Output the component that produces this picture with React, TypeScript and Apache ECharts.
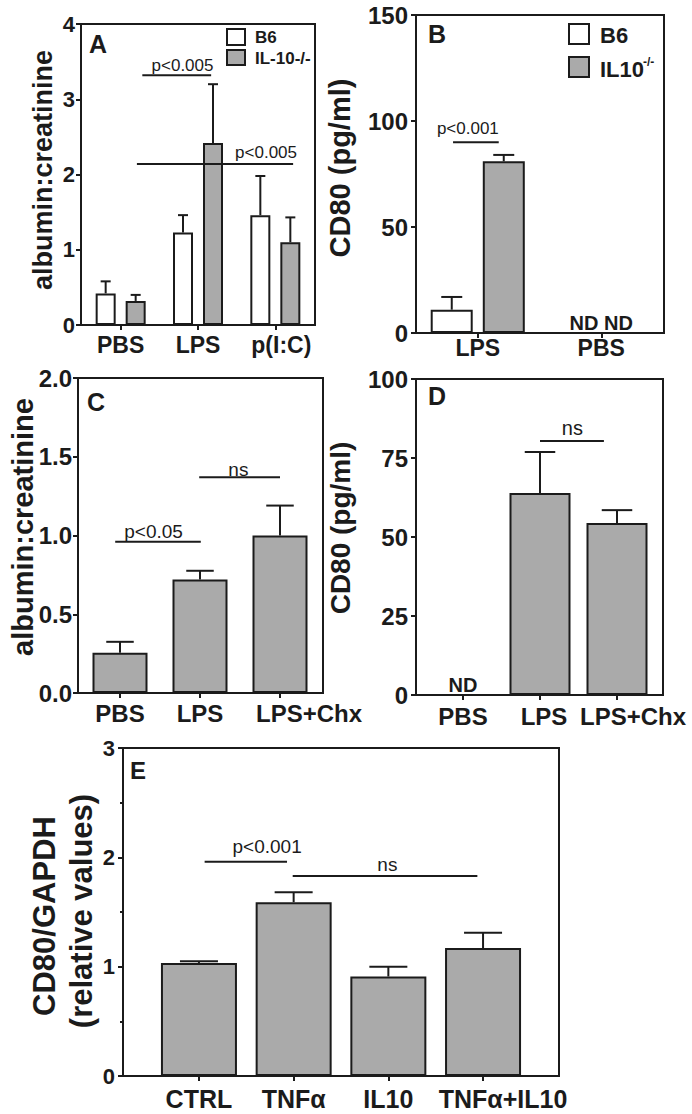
import React, { useEffect, useRef } from 'react';
import * as echarts from 'echarts';

const FONT = '"Liberation Sans", Arial, Helvetica, sans-serif';
const INK = '#1b1b1b';
const GREY = '#aaaaaa';
const WHITE = '#ffffff';

// ---------- Panel A ----------
const catsA = ['PBS', 'LPS', 'p(I:C)'];
const aB6 = [0.42, 1.23, 1.46];
const aB6Err = [0.58, 1.46, 1.98];
const aIL10 = [0.32, 2.42, 1.1];
const aIL10Err = [0.4, 3.2, 1.43];
const sigA = [
  { from: 0.28, to: 1.17, y: 3.32, text: 'p<0.005', tx: 0.8, ty: 3.45 },
  { from: 0.21, to: 2.23, y: 2.14, text: 'p<0.005', tx: 1.88, ty: 2.29 },
];

// ---------- Panel B ----------
const catsB = ['LPS', 'PBS'];
const bB6 = [11, null];
const bB6Err = [17, null];
const bIL10 = [81, null];
const bIL10Err = [84, null];
const sigB = [{ from: -0.2, to: 0.17, y: 90, text: 'p<0.001', tx: -0.08, ty: 96.6 }];
const ndB = [{ cat: 1, y: 4.7, text: 'ND ND' }];

// ---------- Panel C ----------
const catsC = ['PBS', 'LPS', 'LPS+Chx'];
const cVals = [0.255, 0.72, 1.0];
const cErr = [0.325, 0.776, 1.19];
const sigC = [
  { from: -0.06, to: 1.01, y: 0.96, text: 'p<0.05', tx: 0.42, ty: 1.024 },
  { from: 0.99, to: 2.0, y: 1.37, text: 'ns', tx: 1.48, ty: 1.42 },
];

// ---------- Panel D ----------
const catsD = ['PBS', 'LPS', 'LPS+Chx'];
const dVals = [null, 63.9, 54.4];
const dErr = [null, 76.9, 58.5];
const sigD = [{ from: 1.0, to: 1.83, y: 80.4, text: 'ns', tx: 1.42, ty: 84.5 }];
const ndD = [{ cat: 0, y: 3.2, text: 'ND' }];

// ---------- Panel E ----------
const catsE = ['CTRL', 'TNFα', 'IL10', 'TNFα+IL10'];
const eVals = [1.034, 1.59, 0.91, 1.17];
const eErr = [1.05, 1.68, 1.0, 1.31];
const sigE = [
  { from: 0.06, to: 0.93, y: 1.96, text: 'p<0.001', tx: 0.72, ty: 2.1 },
  { from: 0.99, to: 2.94, y: 1.83, text: 'ns', tx: 1.99, ty: 1.93 },
];

type Sig = { from: number; to: number; y: number; text: string; tx: number; ty: number };
type Nd = { cat: number; y: number; text: string };

// layout of the five panels (frame box, data band, label nudges in px)
const panels = [
  { cats: catsA, shift: [0, 0, 6], frame: [81, 24, 234, 301], data: [82, 232], min: 0, max: 4, step: 1, minor: 0, dec: 0, yFont: 22, yMargin: 6, xFont: 23, xMargin: 8 },
  { cats: catsB, shift: [0, 0], frame: [416, 15, 248, 318], data: [416, 247], min: 0, max: 150, step: 50, minor: 0, dec: 0, yFont: 24, yMargin: 8, xFont: 23, xMargin: 3 },
  { cats: catsC, shift: [0, 0, 29], frame: [78, 378, 245, 315], data: [80, 240], min: 0, max: 2, step: 0.5, minor: 0, dec: 1, yFont: 24, yMargin: 6, xFont: 24, xMargin: 8 },
  { cats: catsD, shift: [0, 4, 16], frame: [416, 379, 247, 316], data: [424.5, 231], min: 0, max: 100, step: 25, minor: 0, dec: 0, yFont: 24, yMargin: 8, xFont: 24, xMargin: 9 },
  { cats: catsE, shift: [0, 0, 0, 20], frame: [123, 748, 436, 328], data: [151.6, 378.8], min: 0, max: 3, step: 1, minor: 2, dec: 0, yFont: 22, yMargin: 8, xFont: 25, xMargin: 10 },
];

const LS = { stroke: INK, lineWidth: 2 };

function textStyle(text: string, size: number, bold: boolean, align = 'center', valign = 'middle') {
  return {
    text,
    fill: INK,
    fontSize: size,
    fontWeight: bold ? 'bold' : 'normal',
    fontFamily: FONT,
    align,
    verticalAlign: valign,
    textAlign: align,
    textVerticalAlign: valign,
  };
}

function barSeries(name: string, axis: number, vals: (number | null)[], fill: string, width: number, gap?: string) {
  const s: any = {
    name,
    type: 'bar',
    xAxisIndex: axis,
    yAxisIndex: axis,
    data: vals,
    barWidth: width,
    itemStyle: { color: fill, borderColor: INK, borderWidth: 2 },
    silent: true,
    z: 3,
  };
  if (gap) s.barGap = gap;
  return s;
}

function errSeries(axis: number, vals: (number | null)[], errs: (number | null)[], offset: number, barW: number) {
  const data: number[][] = [];
  vals.forEach((v, i) => {
    const e = errs[i];
    if (v != null && e != null) data.push([i, v, e]);
  });
  return {
    type: 'custom',
    xAxisIndex: axis,
    yAxisIndex: axis,
    z: 4,
    silent: true,
    data,
    renderItem: (params: any, api: any) => {
      const i = api.value(0);
      const v = api.value(1);
      const e = api.value(2);
      const base = api.coord([i, v]);
      const top = api.coord([i, e]);
      const x = base[0] + offset;
      const h = barW / 4;
      return {
        type: 'group',
        children: [
          { type: 'line', shape: { x1: x, y1: base[1], x2: x, y2: top[1] }, style: LS },
          { type: 'line', shape: { x1: x - h, y1: top[1], x2: x + h, y2: top[1] }, style: LS },
        ],
      };
    },
  };
}

function annSeries(axis: number, sigs: Sig[], nds: Nd[], sigSize: number) {
  const items: any[] = [
    ...sigs.map((s) => ({ kind: 'sig', s })),
    ...nds.map((n) => ({ kind: 'nd', n })),
  ];
  return {
    type: 'custom',
    xAxisIndex: axis,
    yAxisIndex: axis,
    z: 6,
    silent: true,
    data: items.map((it) => (it.kind === 'sig' ? [0, it.s.y] : [it.n.cat, it.n.y])),
    renderItem: (params: any, api: any) => {
      const it = items[params.dataIndex];
      const bw = api.size([1, 0])[0];
      if (it.kind === 'sig') {
        const s: Sig = it.s;
        const p = api.coord([0, s.y]);
        const t = api.coord([0, s.ty]);
        return {
          type: 'group',
          children: [
            { type: 'line', shape: { x1: p[0] + s.from * bw, y1: p[1], x2: p[0] + s.to * bw, y2: p[1] }, style: LS },
            { type: 'text', x: t[0] + s.tx * bw, y: t[1], style: textStyle(s.text, sigSize, false) },
          ],
        };
      }
      const n: Nd = it.n;
      const p = api.coord([n.cat, n.y]);
      return { type: 'text', x: p[0], y: p[1], style: textStyle(n.text, 20, true) };
    },
  };
}

function buildOption() {
  const grid: any[] = [];
  const xAxis: any[] = [];
  const yAxis: any[] = [];
  panels.forEach((p, k) => {
    const fi = 2 * k;
    const [fl, ft, fw, fh] = p.frame;
    grid.push({ left: fl, top: ft, width: fw, height: fh, show: true, borderColor: INK, borderWidth: 2, backgroundColor: 'transparent' });
    grid.push({ left: p.data[0], top: ft, width: p.data[1], height: fh, show: false });
    xAxis.push({ type: 'value', gridIndex: fi, min: 0, max: 1, show: false });
    const rich: any = {};
    p.cats.forEach((_, i) => {
      rich['c' + i] = {
        fontSize: p.xFont,
        fontWeight: 'bold',
        fontFamily: FONT,
        color: INK,
        padding: [0, 0, 0, 2 * (p.shift[i] || 0)],
      };
    });
    xAxis.push({
      type: 'category',
      gridIndex: fi + 1,
      data: p.cats,
      boundaryGap: true,
      axisLine: { show: false },
      axisTick: { show: true, alignWithLabel: true, length: 5, lineStyle: { color: INK, width: 2 } },
      axisLabel: {
        interval: 0,
        hideOverlap: false,
        margin: p.xMargin,
        fontSize: p.xFont,
        fontWeight: 'bold',
        fontFamily: FONT,
        color: INK,
        formatter: (v: string, i: number) => `{c${i}|${v}}`,
        rich,
      },
      splitLine: { show: false },
    });
    yAxis.push({
      type: 'value',
      gridIndex: fi,
      min: p.min,
      max: p.max,
      interval: p.step,
      axisLine: { show: true, onZero: false, lineStyle: { color: INK, width: 2 } },
      axisTick: { show: true, length: 5, lineStyle: { color: INK, width: 2 } },
      minorTick: { show: p.minor > 0, splitNumber: p.minor || 5, length: 3, lineStyle: { color: INK, width: 2 } },
      splitLine: { show: false },
      axisLabel: {
        margin: p.yMargin,
        fontSize: p.yFont,
        fontWeight: 'bold',
        fontFamily: FONT,
        color: INK,
        formatter: (v: number) => v.toFixed(p.dec),
      },
    });
    yAxis.push({ type: 'value', gridIndex: fi + 1, min: p.min, max: p.max, show: false });
  });

  const series: any[] = [
    // A
    barSeries('B6', 1, aB6, WHITE, 20, '50%'),
    barSeries('IL-10-/-', 1, aIL10, GREY, 20, '50%'),
    errSeries(1, aB6, aB6Err, -15, 20),
    errSeries(1, aIL10, aIL10Err, 15, 20),
    annSeries(1, sigA, [], 17),
    // B
    barSeries('B6 ', 3, bB6, WHITE, 42, '24%'),
    barSeries('IL10-/-', 3, bIL10, GREY, 42, '24%'),
    errSeries(3, bB6, bB6Err, -26, 42),
    errSeries(3, bIL10, bIL10Err, 26, 42),
    annSeries(3, sigB, ndB, 17),
    // C
    barSeries('C', 5, cVals, GREY, 55),
    errSeries(5, cVals, cErr, 0, 55),
    annSeries(5, sigC, [], 19),
    // D
    barSeries('D', 7, dVals, GREY, 61),
    errSeries(7, dVals, dErr, 0, 61),
    annSeries(7, sigD, ndD, 20),
    // E
    barSeries('E', 9, eVals, GREY, 76),
    errSeries(9, eVals, eErr, 0, 76),
    annSeries(9, sigE, [], 19),
  ];

  const box = (x: number, y: number, w: number, h: number, fill: string) => ({
    type: 'rect',
    shape: { x, y, width: w, height: h },
    style: { fill, stroke: INK, lineWidth: 2 },
  });
  const label = (x: number, y: number, text: string, size: number, bold = true, align = 'left') => ({
    type: 'text',
    x,
    y,
    style: textStyle(text, size, bold, align, 'middle'),
  });
  const vtitle = (x: number, y: number, text: string, size: number) => ({
    type: 'text',
    x,
    y,
    rotation: Math.PI / 2,
    style: textStyle(text, size, true, 'center', 'middle'),
  });

  const graphic: any[] = [
    // panel letters
    label(89, 44, 'A', 25),
    label(428, 34, 'B', 25),
    label(87, 402, 'C', 25),
    label(428, 396, 'D', 25),
    label(130, 770, 'E', 24),
    // legend A
    box(227, 29, 18, 16, WHITE),
    box(227, 50, 18, 15, GREY),
    label(255, 37, 'B6', 17),
    label(255, 58, 'IL-10-/-', 17),
    // legend B
    box(569, 24, 20, 20, WHITE),
    box(569, 57, 20, 20, GREY),
    label(600, 35, 'B6', 22),
    label(600, 69, 'IL10', 22),
    label(643, 62, '-/-', 12),
    // axis titles
    vtitle(43, 170, 'albumin:creatinine', 27),
    vtitle(340, 168, 'CD80 (pg/ml)', 29),
    vtitle(23, 527, 'albumin:creatinine', 29),
    vtitle(340, 528, 'CD80 (pg/ml)', 28),
    vtitle(44, 916, 'CD80/GAPDH', 31),
    vtitle(81, 911, '(relative values)', 31),
  ];

  return {
    animation: false,
    backgroundColor: '#ffffff',
    grid,
    xAxis,
    yAxis,
    series,
    graphic,
  };
}

export default function App() {
  const ref = useRef<HTMLDivElement>(null);
  useEffect(() => {
    if (!ref.current) return;
    const chart = echarts.init(ref.current, null, { renderer: 'svg' });
    chart.setOption(buildOption() as any);
    return () => chart.dispose();
  }, []);
  return (
    <div
      ref={ref}
      style={{ position: 'absolute', left: 0, top: 0, width: 692, height: 1114, background: '#fff' }}
    />
  );
}
